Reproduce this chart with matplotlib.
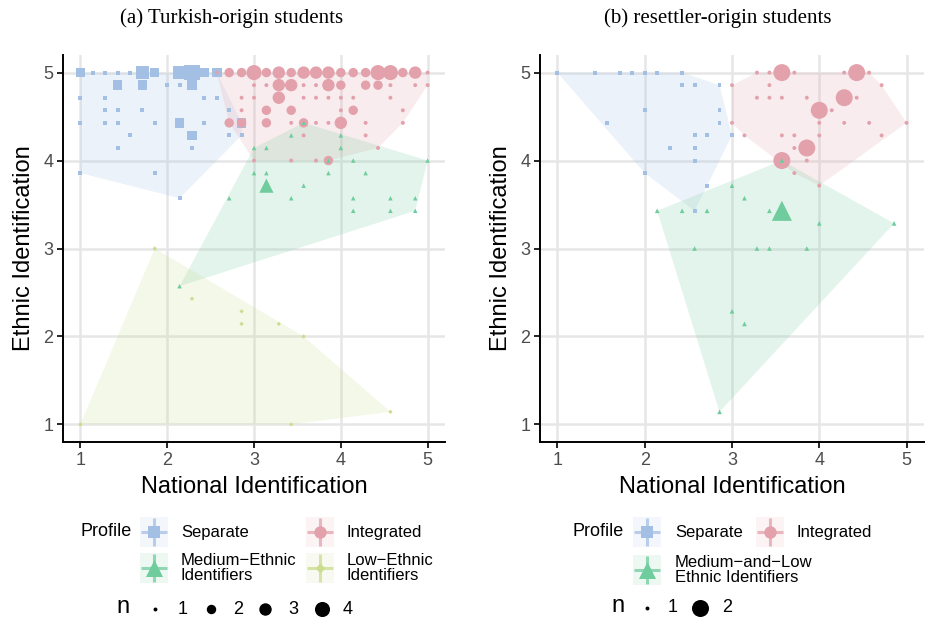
# plot.py - identification profiles of Turkish-origin and resettler-origin students

import matplotlib
matplotlib.use("Agg")
import matplotlib.pyplot as plt
from matplotlib.patches import Rectangle, Polygon

# Both scales are means of seven items, so every score sits on a 1/7 grid.
# Points are stored as (national, ethnic, n) in sevenths above 1
# (0 -> 1.0, 28 -> 5.0); n is the number of students at that spot.

# (a) Turkish-origin students
tr_separate = [
    (0, 28, 2), (1, 28, 1), (2, 28, 1), (3, 28, 1), (4, 28, 1), (5, 28, 3),
    (6, 28, 2), (8, 28, 3), (9, 28, 4), (10, 28, 2), (11, 28, 2),
    (3, 27, 2), (5, 27, 2), (7, 27, 1), (8, 27, 1), (9, 27, 2),
    (0, 26, 1), (2, 26, 1), (10, 26, 1), (11, 26, 1),
    (2, 25, 1), (3, 25, 1), (5, 25, 1), (12, 25, 1),
    (0, 24, 1), (2, 24, 1), (3, 24, 1), (6, 24, 1), (8, 24, 2), (10, 24, 1),
    (13, 24, 2),
    (4, 23, 1), (9, 23, 2), (12, 23, 1), (13, 23, 1),
    (3, 22, 1), (9, 22, 1),
    (0, 20, 1), (6, 20, 1),
    (8, 18, 1),
]
tr_integrated = [
    (11, 28, 1), (12, 28, 2), (13, 28, 2), (14, 28, 4), (15, 28, 2),
    (16, 28, 3), (17, 28, 2), (18, 28, 3), (19, 28, 3), (20, 28, 3),
    (21, 28, 2), (22, 28, 2), (23, 28, 2), (24, 28, 4), (25, 28, 4),
    (26, 28, 2), (27, 28, 3), (28, 28, 1),
    (14, 27, 1), (15, 27, 1), (16, 27, 3), (17, 27, 3), (18, 27, 1),
    (19, 27, 1), (20, 27, 3), (21, 27, 2), (23, 27, 2), (24, 27, 2),
    (25, 27, 1), (27, 27, 1), (28, 27, 1),
    (13, 26, 1), (14, 26, 1), (16, 26, 3), (18, 26, 1), (19, 26, 1),
    (20, 26, 1), (21, 26, 1), (22, 26, 1), (25, 26, 1),
    (13, 25, 1), (15, 25, 2), (17, 25, 2), (21, 25, 1), (22, 25, 2),
    (26, 25, 1),
    (12, 24, 2), (13, 24, 2), (15, 24, 2), (17, 24, 1), (18, 24, 2),
    (19, 24, 1), (20, 24, 1), (21, 24, 3), (23, 24, 1), (26, 24, 1),
    (18, 23, 1), (23, 23, 1),
    (24, 22, 1),
    (14, 21, 1), (17, 21, 1), (19, 21, 1), (20, 21, 2),
]
tr_medium = [
    (18, 24, 1), (17, 23, 1), (21, 23, 1), (14, 22, 1), (15, 22, 1),
    (21, 22, 1), (20, 21, 1), (22, 21, 1), (28, 21, 1), (14, 20, 1),
    (15, 20, 1), (20, 20, 1), (23, 20, 1), (15, 19, 3), (18, 19, 1),
    (12, 18, 1), (17, 18, 1), (22, 18, 1), (25, 18, 1), (27, 18, 1),
    (22, 17, 1), (25, 17, 1), (27, 17, 1), (8, 11, 1),
]
tr_low = [
    (6, 14, 1), (9, 10, 1), (13, 9, 1), (13, 8, 1), (16, 8, 1), (18, 7, 1),
    (25, 1, 1), (0, 0, 1), (17, 0, 1),
]

# (b) resettler-origin students
rs_separate = [
    (0, 28, 1), (3, 28, 1), (5, 28, 1), (6, 28, 1), (7, 28, 1), (8, 28, 1),
    (10, 28, 1),
    (10, 27, 1), (11, 27, 1), (13, 27, 1),
    (7, 25, 1), (13, 25, 1),
    (4, 24, 1), (13, 24, 1),
    (11, 23, 1), (12, 23, 1), (14, 23, 1),
    (9, 22, 1), (11, 22, 1),
    (11, 21, 1), (7, 20, 1), (12, 19, 1), (11, 17, 1),
]
rs_integrated = [
    (16, 28, 1), (17, 28, 1), (18, 28, 2), (19, 28, 1), (23, 28, 1),
    (24, 28, 2), (25, 28, 1),
    (14, 27, 1), (17, 27, 1), (26, 27, 1),
    (16, 26, 1), (17, 26, 1), (18, 26, 1), (20, 26, 1), (23, 26, 2),
    (24, 26, 1),
    (21, 25, 2), (22, 25, 1),
    (14, 24, 1), (21, 24, 1), (23, 24, 1), (25, 24, 1), (28, 24, 1),
    (15, 23, 1), (18, 23, 1), (19, 23, 1), (21, 23, 1), (26, 23, 1),
    (19, 22, 1), (20, 22, 2),
    (18, 21, 2), (20, 21, 1),
    (19, 20, 1), (21, 19, 1),
]
rs_medium_low = [
    (18, 21, 1), (14, 19, 1), (15, 18, 1), (8, 17, 1), (10, 17, 1),
    (12, 17, 1), (17, 17, 1), (18, 17, 2), (21, 16, 1), (27, 16, 1),
    (11, 14, 1), (16, 14, 1), (17, 14, 1), (20, 14, 1), (14, 9, 1),
    (15, 8, 1), (13, 1, 1),
]

SEP_COL = "#a3c0e4"
INT_COL = "#e3a1ac"
MED_COL = "#6fcc9d"
LOW_COL = "#cadc8e"
SANS = ["Liberation Sans", "DejaVu Sans"]
SERIF = ["Liberation Serif", "DejaVu Serif"]

# marker areas (pt^2) for n, per panel (ggplot rescales size per plot)
tr_sizes = {1: 8, 2: 46, 3: 80, 4: 118}
rs_sizes = {1: 8, 2: 150}


def to_score(steps):
    return 1 + steps / 7


def convex_hull(points):
    pts = sorted(set(points))
    if len(pts) < 3:
        return pts

    def cross(o, a, b):
        return (a[0] - o[0]) * (b[1] - o[1]) - (a[1] - o[1]) * (b[0] - o[0])

    lower, upper = [], []
    for p in pts:
        while len(lower) >= 2 and cross(lower[-2], lower[-1], p) <= 0:
            lower.pop()
        lower.append(p)
    for p in reversed(pts):
        while len(upper) >= 2 and cross(upper[-2], upper[-1], p) <= 0:
            upper.pop()
        upper.append(p)
    return lower[:-1] + upper[:-1]


def draw_panel(ax, groups, sizes):
    # hulls first, then points on top
    for pts, marker, color, scale in groups:
        hull = convex_hull([(to_score(i), to_score(j)) for i, j, _ in pts])
        ax.add_patch(Polygon(hull, closed=True, facecolor=color, alpha=0.2,
                             edgecolor="none", zorder=1))
    for pts, marker, color, scale in groups:
        xs = [to_score(i) for i, _, _ in pts]
        ys = [to_score(j) for _, j, _ in pts]
        ss = [sizes[n] * scale for _, _, n in pts]
        ax.scatter(xs, ys, s=ss, marker=marker, color=color,
                   linewidths=0, zorder=3)

    ax.set_xlim(0.8, 5.2)
    ax.set_ylim(0.8, 5.2)
    ax.set_xticks([1, 2, 3, 4, 5])
    ax.set_yticks([1, 2, 3, 4, 5])
    ax.grid(True, color="#e6e6e6", linewidth=1.8, zorder=0)
    ax.set_axisbelow(True)
    for side in ("top", "right"):
        ax.spines[side].set_visible(False)
    for side in ("left", "bottom"):
        ax.spines[side].set_linewidth(1.4)
        ax.spines[side].set_color("black")
    ax.tick_params(length=4, width=1.2, color="black", labelsize=13,
                   labelcolor="#4d4d4d", pad=3)
    for lab in ax.get_xticklabels() + ax.get_yticklabels():
        lab.set_family(SANS)
    ax.set_xlabel("National Identification", fontsize=17, family=SANS,
                  labelpad=5)
    ax.set_ylabel("Ethnic Identification", fontsize=17, family=SANS,
                  labelpad=6)


def legend_key(lax, cx, cy, color, marker, s):
    lax.add_patch(Rectangle((cx - 14, cy - 15), 28, 30, facecolor=color,
                            alpha=0.12, edgecolor="none"))
    lax.plot([cx - 13, cx + 13], [cy, cy], color=color, lw=2.2, alpha=0.75,
             solid_capstyle="butt")
    lax.plot([cx, cx], [cy - 14, cy + 14], color=color, lw=2.2, alpha=0.75,
             solid_capstyle="butt")
    lax.scatter([cx], [cy], s=s, marker=marker, color=color, linewidths=0)


fig = plt.figure(figsize=(9.26, 6.23), dpi=100)

ax_a = fig.add_axes([63 / 926, 1 - 442 / 623, 382 / 926, 387 / 623])
ax_b = fig.add_axes([540 / 926, 1 - 442 / 623, 384 / 926, 387 / 623])

draw_panel(ax_a, [
    (tr_separate, "s", SEP_COL, 1.0),
    (tr_integrated, "o", INT_COL, 1.0),
    (tr_medium, "^", MED_COL, 1.3),
    (tr_low, "D", LOW_COL, 0.6),
], tr_sizes)
draw_panel(ax_b, [
    (rs_separate, "s", SEP_COL, 1.0),
    (rs_integrated, "o", INT_COL, 1.0),
    (rs_medium_low, "^", MED_COL, 1.4),
], rs_sizes)

fig.text(232 / 926, 1 - 18 / 623, "(a) Turkish-origin students",
         ha="center", va="center", fontsize=15, family=SERIF)
fig.text(718 / 926, 1 - 18 / 623, "(b) resettler-origin students",
         ha="center", va="center", fontsize=15, family=SERIF)

# legends, laid out in figure pixels
lax = fig.add_axes([0, 0, 1, 1], zorder=-1)
lax.set_xlim(0, 926)
lax.set_ylim(623, 0)
lax.axis("off")

txt = dict(va="center", fontsize=12, family=SANS)

# panel (a)
lax.text(80, 532, "Profile", fontsize=13, va="center", family=SANS)
legend_key(lax, 154, 532, SEP_COL, "s", 70)
lax.text(181, 532, "Separate", **txt)
legend_key(lax, 320, 532, INT_COL, "o", 80)
lax.text(347, 532, "Integrated", **txt)
legend_key(lax, 154, 568, MED_COL, "^", 150)
lax.text(181, 568, "Medium\u2212Ethnic\nIdentifiers", linespacing=0.95, **txt)
legend_key(lax, 320, 568, LOW_COL, "D", 25)
lax.text(347, 568, "Low\u2212Ethnic\nIdentifiers", linespacing=0.95, **txt)

lax.text(123, 607, "n", ha="center", va="center", fontsize=17, family=SANS)
for n, dot_x, lab_x in [(1, 155, 183), (2, 211, 238), (3, 265, 293),
                        (4, 322, 348)]:
    lax.scatter([dot_x], [609], s=tr_sizes[n], color="black", linewidths=0)
    lax.text(lab_x, 609, str(n), ha="center", va="center", fontsize=13,
             family=SANS)

# panel (b)
lax.text(572, 532, "Profile", fontsize=13, va="center", family=SANS)
legend_key(lax, 647, 532, SEP_COL, "s", 70)
lax.text(675, 532, "Separate", **txt)
legend_key(lax, 770, 532, INT_COL, "o", 80)
lax.text(797, 532, "Integrated", **txt)
legend_key(lax, 647, 570, MED_COL, "^", 150)
lax.text(675, 570, "Medium\u2212and\u2212Low\nEthnic Identifiers",
         linespacing=0.95, **txt)

lax.text(618, 606, "n", ha="center", va="center", fontsize=17, family=SANS)
for n, dot_x, lab_x in [(1, 647, 673), (2, 700, 727)]:
    lax.scatter([dot_x], [608], s=rs_sizes[n], color="black", linewidths=0)
    lax.text(lab_x, 608, str(n), ha="center", va="center", fontsize=13,
             family=SANS)

fig.savefig("out.png", dpi=100)
